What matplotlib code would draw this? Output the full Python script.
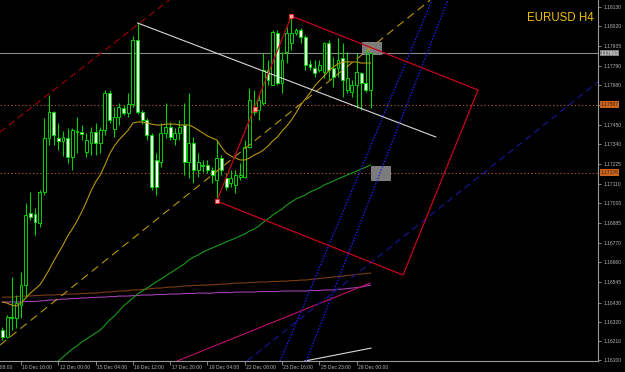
import numpy as np
import matplotlib
matplotlib.use("Agg")
import matplotlib.pyplot as plt
from matplotlib.patches import Rectangle, Polygon
from matplotlib import font_manager

# EURUSD H4 candles, bar 0 = 10 Dec 00:00 (first visible)
opens = [1.16272, 1.16232, 1.16347, 1.16341, 1.16415, 1.16530, 1.16944, 1.16938, 1.16887, 1.17065,
         1.17375, 1.17524, 1.17375, 1.17358, 1.17375, 1.17266, 1.17415, 1.17410, 1.17295, 1.17346,
         1.17410, 1.17346, 1.17421, 1.17634, 1.17427, 1.17496, 1.17547, 1.17519, 1.17570, 1.17938,
         1.17524, 1.17478, 1.17392, 1.17249, 1.17237, 1.17404, 1.17438, 1.17369, 1.17404, 1.17450,
         1.17237, 1.17346, 1.17191, 1.17220, 1.17220, 1.17191, 1.17134, 1.17260, 1.17145, 1.17116,
         1.17105, 1.17151, 1.17151, 1.17323, 1.17553, 1.17536, 1.17576, 1.17766, 1.17680, 1.17978,
         1.17691, 1.17869, 1.17921, 1.17978, 1.17996, 1.17955, 1.17800, 1.17777, 1.17766, 1.17754,
         1.17921, 1.17777, 1.17777, 1.17835, 1.17651, 1.17639, 1.17680, 1.17749, 1.17691, 1.17651]
highs = [1.16289, 1.16358, 1.16576, 1.16473, 1.16605, 1.17002, 1.17065, 1.16973, 1.17076, 1.17490,
         1.17622, 1.17530, 1.17461, 1.17415, 1.17433, 1.17433, 1.17496, 1.17450, 1.17404, 1.17438,
         1.17461, 1.17438, 1.17651, 1.17651, 1.17553, 1.17576, 1.17565, 1.17634, 1.17961, 1.18036,
         1.17536, 1.17490, 1.17404, 1.17289, 1.17461, 1.17576, 1.17467, 1.17433, 1.17478, 1.17576,
         1.17634, 1.17381, 1.17289, 1.17249, 1.17249, 1.17208, 1.17364, 1.17277, 1.17174, 1.17191,
         1.17191, 1.17232, 1.17364, 1.17662, 1.17651, 1.17622, 1.17863, 1.17823, 1.17996, 1.17996,
         1.17869, 1.18013, 1.18076, 1.18007, 1.18007, 1.17967, 1.17823, 1.17823, 1.17823, 1.17927,
         1.17938, 1.17840, 1.17950, 1.17921, 1.17869, 1.17708, 1.17863, 1.17754, 1.17881, 1.17869]
lows = [1.16214, 1.16226, 1.16272, 1.16283, 1.16341, 1.16461, 1.16904, 1.16818, 1.16864, 1.17048,
        1.17335, 1.17335, 1.17306, 1.17272, 1.17232, 1.17191, 1.17289, 1.17364, 1.17266, 1.17277,
        1.17277, 1.17289, 1.17392, 1.17461, 1.17381, 1.17450, 1.17507, 1.17496, 1.17553, 1.17513,
        1.17455, 1.17364, 1.17076, 1.17048, 1.17208, 1.17375, 1.17364, 1.17335, 1.17364, 1.17163,
        1.17145, 1.17116, 1.17151, 1.17180, 1.17174, 1.17116, 1.17013, 1.17163, 1.17076, 1.17094,
        1.17059, 1.17134, 1.17145, 1.17318, 1.17507, 1.17478, 1.17565, 1.17680, 1.17680, 1.17680,
        1.17634, 1.17806, 1.17881, 1.17967, 1.17921, 1.17766, 1.17766, 1.17726, 1.17754, 1.17720,
        1.17708, 1.17668, 1.17726, 1.17611, 1.17634, 1.17611, 1.17547, 1.17536, 1.17639, 1.17547]
closes = [1.16232, 1.16347, 1.16341, 1.16427, 1.16530, 1.16933, 1.16921, 1.16892, 1.17065, 1.17375,
          1.17524, 1.17392, 1.17358, 1.17381, 1.17266, 1.17421, 1.17410, 1.17398, 1.17364, 1.17410,
          1.17346, 1.17421, 1.17634, 1.17478, 1.17496, 1.17553, 1.17519, 1.17570, 1.17938, 1.17524,
          1.17478, 1.17392, 1.17094, 1.17094, 1.17404, 1.17438, 1.17381, 1.17404, 1.17438, 1.17237,
          1.17346, 1.17191, 1.17237, 1.17214, 1.17191, 1.17163, 1.17260, 1.17191, 1.17094, 1.17145,
          1.17163, 1.17163, 1.17323, 1.17593, 1.17524, 1.17593, 1.17766, 1.17708, 1.17984, 1.17691,
          1.17823, 1.17978, 1.17978, 1.17996, 1.17955, 1.17795, 1.17783, 1.17749, 1.17795, 1.17921,
          1.17766, 1.17726, 1.17823, 1.17708, 1.17720, 1.17680, 1.17754, 1.17691, 1.17651, 1.17863]

# moving averages
ma_fast = [1.16433, 1.16427, 1.16415, 1.16410, 1.16427, 1.16456, 1.16484, 1.16507, 1.16530, 1.16571,
           1.16617, 1.16668, 1.16714, 1.16760, 1.16812, 1.16852, 1.16898, 1.16950, 1.17007, 1.17071,
           1.17122, 1.17163, 1.17220, 1.17283, 1.17329, 1.17364, 1.17392, 1.17421, 1.17461, 1.17467,
           1.17467, 1.17461, 1.17455, 1.17450, 1.17450, 1.17455, 1.17455, 1.17455, 1.17450, 1.17450,
           1.17450, 1.17438, 1.17421, 1.17404, 1.17387, 1.17375, 1.17364, 1.17323, 1.17289, 1.17272,
           1.17260, 1.17249, 1.17249, 1.17260, 1.17277, 1.17289, 1.17306, 1.17329, 1.17358, 1.17381,
           1.17415, 1.17444, 1.17478, 1.17519, 1.17565, 1.17599, 1.17634, 1.17674, 1.17703, 1.17731,
           1.17760, 1.17783, 1.17800, 1.17812, 1.17812, 1.17812, 1.17812, 1.17806, 1.17806, 1.17806]
ma_green = [np.nan] * 12 + [
           1.16094, 1.16117, 1.16140, 1.16163, 1.16180, 1.16203, 1.16220, 1.16237,
           1.16255, 1.16272, 1.16300, 1.16329, 1.16352, 1.16381, 1.16410, 1.16433, 1.16456, 1.16479,
           1.16496, 1.16513, 1.16530, 1.16548, 1.16565, 1.16582, 1.16599, 1.16617, 1.16634, 1.16651,
           1.16674, 1.16691, 1.16703, 1.16720, 1.16732, 1.16743, 1.16755, 1.16766, 1.16778, 1.16789,
           1.16800, 1.16812, 1.16823, 1.16841, 1.16852, 1.16869, 1.16892, 1.16910, 1.16933, 1.16950,
           1.16967, 1.16990, 1.17007, 1.17025, 1.17036, 1.17048, 1.17065, 1.17076, 1.17088, 1.17105,
           1.17116, 1.17128, 1.17140, 1.17151, 1.17163, 1.17174, 1.17185, 1.17197, 1.17208, 1.17220]
ma_brown = [1.16461, 1.16461, 1.16461, 1.16464, 1.16467, 1.16467, 1.16467, 1.16470, 1.16470, 1.16473,
            1.16473, 1.16473, 1.16476, 1.16476, 1.16479, 1.16479, 1.16479, 1.16482, 1.16482, 1.16484,
            1.16484, 1.16487, 1.16490, 1.16490, 1.16493, 1.16496, 1.16496, 1.16499, 1.16502, 1.16502,
            1.16505, 1.16507, 1.16510, 1.16513, 1.16513, 1.16516, 1.16519, 1.16519, 1.16522, 1.16525,
            1.16525, 1.16528, 1.16528, 1.16530, 1.16530, 1.16533, 1.16533, 1.16536, 1.16536, 1.16539,
            1.16542, 1.16542, 1.16542, 1.16545, 1.16545, 1.16548, 1.16548, 1.16548, 1.16551, 1.16551,
            1.16553, 1.16553, 1.16556, 1.16556, 1.16559, 1.16559, 1.16562, 1.16565, 1.16568, 1.16571,
            1.16574, 1.16576, 1.16579, 1.16582, 1.16585, 1.16588, 1.16591, 1.16594, 1.16597, 1.16599]
ma_purple = [1.16433, 1.16433, 1.16433, 1.16433, 1.16433, 1.16436, 1.16436, 1.16436, 1.16438, 1.16441,
             1.16444, 1.16444, 1.16447, 1.16450, 1.16450, 1.16453, 1.16453, 1.16456, 1.16456, 1.16459,
             1.16459, 1.16461, 1.16461, 1.16464, 1.16464, 1.16467, 1.16467, 1.16467, 1.16470, 1.16470,
             1.16473, 1.16473, 1.16473, 1.16476, 1.16476, 1.16476, 1.16479, 1.16479, 1.16479, 1.16482,
             1.16482, 1.16482, 1.16484, 1.16484, 1.16484, 1.16484, 1.16487, 1.16487, 1.16487, 1.16487,
             1.16490, 1.16490, 1.16490, 1.16490, 1.16490, 1.16493, 1.16493, 1.16493, 1.16493, 1.16493,
             1.16496, 1.16496, 1.16496, 1.16496, 1.16496, 1.16496, 1.16499, 1.16499, 1.16499, 1.16502,
             1.16502, 1.16502, 1.16505, 1.16507, 1.16510, 1.16513, 1.16516, 1.16519, 1.16525, 1.16530]

# drawn objects: (bar index, price) anchors
trend_yellow = ([-0.5, 91.8], [1.16186, 1.18168])
trend_red = ([-0.5, 35.8], [1.17410, 1.18168])
line_white = ([29, 93.0], [1.18036, 1.17381])
line_magenta = ([37.5, 78.9], [1.16094, 1.16542])
line_white_low = ([64.9, 79.1], [1.16094, 1.16168])
blue_dot1 = ([59.6, 92.2], [1.16094, 1.18168])
blue_dot2 = ([65.2, 95.6], [1.16094, 1.18168])
navy_dash = ([52.5, 127.8], [1.16094, 1.17697])
rect_x = [46, 62, 102.06, 85.97]
rect_y = [1.17013, 1.18076, 1.17651, 1.16588]
marks_x = [46, 54.2, 62]
marks_y = [1.17013, 1.17542, 1.18076]
bid = 1.17863
levels = [1.17567, 1.17176]

ytick_vals = [1.18130, 1.18020, 1.17905, 1.17790, 1.17680, 1.17565, 1.17450, 1.17340, 1.17225, 1.17110,
              1.17000, 1.16885, 1.16770, 1.16660, 1.16545, 1.16430, 1.16320, 1.16210, 1.16100]
hidden_ticks = [1.17565]  # covered by the level label
xtick_pos = [-4, 4, 12, 20, 28, 36, 44, 52, 60, 68, 76]
xtick_labels = ["9 Dec 08:00", "10 Dec 16:00", "12 Dec 00:00", "15 Dec 04:00", "16 Dec 12:00",
                "17 Dec 20:00", "19 Dec 04:00", "22 Dec 08:00", "23 Dec 16:00", "25 Dec 23:00",
                "29 Dec 00:00"]

names = {f.name for f in font_manager.fontManager.ttflist}
if "Liberation Sans Narrow" in names:
    fam, fs_small, fs_title = "Liberation Sans Narrow", 4.4, 10
else:
    fam, fs_small, fs_title = "Liberation Sans", 3.6, 8.3
plt.rcParams["font.family"] = [fam, "DejaVu Sans"]
plt.rcParams["lines.scale_dashes"] = False

lime = "#00d200"
axis_c = "#9a9a9a"
label_c = "#b4b4b4"

fig = plt.figure(figsize=(6.25, 3.72), dpi=100, facecolor="black")
ax = fig.add_axes([0, 11 / 372, 598 / 625, 361 / 372])
ax.set_facecolor("black")

x = np.arange(len(closes))
o = np.array(opens)
c = np.array(closes)

# moving averages
ax.plot(x, ma_brown, color="#7a3c14", lw=0.8, zorder=2)
ax.plot(x, ma_purple, color="#a040b0", lw=0.8, zorder=2)
ax.plot(x, ma_green, color="#1a9a1a", lw=0.8, zorder=2)

# gray label boxes
ax.add_patch(Rectangle((77.2, 1.17858), 4.0, 0.00069, fc="#7c7c7c", ec="#999999", lw=0.5, zorder=2))
ax.add_patch(Rectangle((79.1, 1.17134), 4.1, 0.00080, fc="#7c7c7c", ec="#999999", lw=0.5, zorder=2))

# candles
ax.vlines(x, lows, highs, color=lime, lw=0.8, zorder=3)
fill = np.where(c >= o, "black", "white")
ax.bar(x, np.abs(c - o), bottom=np.minimum(o, c), width=0.62, color=fill,
       edgecolor=lime, linewidth=0.7, zorder=4)

ax.plot(x, ma_fast, color="#b8960b", lw=0.8, zorder=5)

# horizontal levels
ax.axhline(bid, color="#8a8a8a", lw=0.8, zorder=1)
for lv in levels:
    ax.axhline(lv, color="#a0522d", lw=0.8, dashes=(1, 1.6), zorder=1)

# objects
ax.plot(*trend_yellow, color="#b8960b", lw=0.8, dashes=(5.8, 3.6), zorder=6)
ax.plot(*trend_red, color="#a00000", lw=0.8, dashes=(5, 3), zorder=6)
ax.plot(*line_white, color="#d8d8d8", lw=0.8, zorder=6)
ax.plot(*line_magenta, color="#c0106a", lw=0.8, zorder=6)
ax.plot(*line_white_low, color="#d8d8d8", lw=0.8, zorder=6)
ax.plot(*blue_dot1, color="#2020f0", lw=0.9, dashes=(1.1, 1.1), zorder=6)
ax.plot(*blue_dot2, color="#2020f0", lw=0.9, dashes=(1.1, 1.1), zorder=6)
ax.plot(*navy_dash, color="#14148c", lw=0.9, dashes=(5, 3), zorder=6)
ax.add_patch(Polygon(list(zip(rect_x, rect_y)), closed=True, fill=False,
                     ec="#c8001e", lw=0.9, zorder=7))
ax.plot(marks_x, marks_y, "s", ms=2.6, mfc="#ffb0b0", mec="#ff2020", mew=0.6, zorder=8)

ax.set_xlim(-0.515, 127.8)
ax.set_ylim(1.16094, 1.18168)

for s in ["left", "top"]:
    ax.spines[s].set_visible(False)
for s in ["right", "bottom"]:
    ax.spines[s].set_color(axis_c)
    ax.spines[s].set_linewidth(0.8)

ax.yaxis.tick_right()
ax.set_yticks(ytick_vals)
ax.set_yticklabels(["" if v in hidden_ticks else f"{v:.5f}" for v in ytick_vals])
ax.tick_params(axis="y", direction="out", length=2.5, width=0.6, colors=axis_c,
               labelcolor=label_c, labelsize=fs_small, pad=1.5)

ax.set_xticks([p for p in xtick_pos if p > 0])
ax.set_xticklabels([])
ax.tick_params(axis="x", direction="out", length=3, width=0.6, colors=axis_c)
for p, lbl in zip(xtick_pos, xtick_labels):
    ax.text(p + 0.3, -0.017, lbl, transform=ax.get_xaxis_transform(), ha="left", va="center",
            fontsize=fs_small, color=label_c, clip_on=False)

# price labels on the scale
for val, bg, fg in [(bid, "#808080", "#f0f0f0"), (levels[0], "#c8641e", "#4a2208"),
                    (levels[1], "#c8641e", "#4a2208")]:
    ax.text(1.004, val, f"{val:.5f}", transform=ax.get_yaxis_transform(), ha="left", va="center",
            fontsize=fs_small, color=fg, clip_on=False, zorder=10,
            bbox=dict(boxstyle="square,pad=0.15", fc=bg, ec="none"))

ax.text(0.993, 0.95, "EURUSD H4", transform=ax.transAxes, ha="right", va="center",
        color="#f0c000", fontsize=fs_title)

fig.savefig("out.png", dpi=100, facecolor="black")
